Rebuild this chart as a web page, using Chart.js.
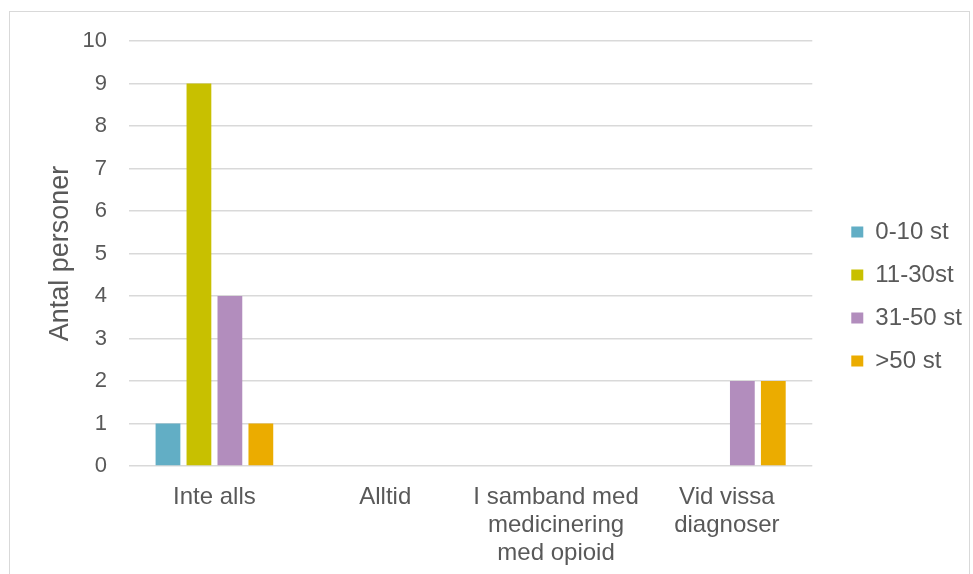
<!DOCTYPE html>
<html>
<head>
<meta charset="utf-8">
<script src="https://cdn.jsdelivr.net/npm/chart.js@4/dist/chart.umd.min.js"></script>
<style>
  html, body { margin: 0; padding: 0; background: #fff; }
  #wrap { position: relative; width: 973px; height: 574px; overflow: hidden; }
  #frame { position: absolute; left: 9px; top: 11px; width: 961px; height: 600px; border: 1px solid #d9d9d9; box-sizing: border-box; }
  canvas { position: absolute; left: 0; top: 0; }
</style>
</head>
<body>
<div id="wrap">
  <div id="frame"></div>
  <canvas id="c" width="973" height="574"></canvas>
</div>
<script>
const categories = [
  "Inte alls",
  "Alltid",
  ["I samband med", "medicinering", "med opioid"],
  ["Vid vissa", "diagnoser"]
];
const seriesNames = ["0-10 st", "11-30st", "31-50 st", ">50 st"];
const values0to10 = [1, 0, 0, 0];
const values11to30 = [9, 0, 0, 0];
const values31to50 = [4, 0, 0, 2];
const valuesOver50 = [1, 0, 0, 2];
const seriesColors = ["#62aec5", "#c8c000", "#b28dbd", "#ebac00"];
const yTicks = [0, 1, 2, 3, 4, 5, 6, 7, 8, 9, 10];

const textColor = "#595959";
const fontFamily = "'Liberation Sans', Arial, sans-serif";

const seriesValues = [values0to10, values11to30, values31to50, valuesOver50];

// empty spacer axes that only reserve room around the plot
const spacer = (size, horizontal) => ({
  display: true,
  grid: { display: false, drawTicks: false },
  border: { display: false },
  ticks: { display: false },
  afterFit: (axis) => {
    if (horizontal) axis.height = size; else axis.width = size;
  }
});

new Chart(document.getElementById("c"), {
  type: "bar",
  data: {
    labels: categories,
    datasets: seriesNames.map((name, i) => ({
      label: name,
      data: seriesValues[i],
      backgroundColor: seriesColors[i],
      borderWidth: 0,
      categoryPercentage: 0.725,
      barPercentage: 0.8
    }))
  },
  options: {
    responsive: false,
    animation: false,
    layout: { padding: { left: 30, top: 19, right: 1, bottom: 0 } },
    plugins: {
      tooltip: { enabled: false },
      legend: {
        position: "right",
        align: "center",
        labels: {
          color: textColor,
          font: { family: fontFamily, size: 24 },
          boxWidth: 12,
          boxHeight: 11,
          padding: 19
        }
      }
    },
    scales: {
      x: {
        grid: { display: false, drawTicks: false },
        border: { display: false },
        ticks: {
          color: textColor,
          font: { family: fontFamily, size: 24, lineHeight: 1.17 },
          padding: 17,
          maxRotation: 0,
          autoSkip: false
        },
        afterFit: (axis) => { axis.height = 108; }
      },
      y: {
        min: 0,
        max: 10,
        afterBuildTicks: (axis) => { axis.ticks = yTicks.map(v => ({ value: v })); },
        grid: { color: "#d9d9d9", lineWidth: 1.5, drawTicks: false },
        border: { display: false },
        ticks: {
          color: textColor,
          font: { family: fontFamily, size: 22 },
          padding: 22
        },
        title: {
          display: true,
          text: "Antal personer",
          color: textColor,
          font: { family: fontFamily, size: 27 },
          padding: { top: 14, bottom: 0 }
        },
        afterFit: (axis) => { axis.width = 99; }
      },
      xTop: Object.assign({ type: "category", position: "top" }, spacer(22, true)),
      yRight: Object.assign({ type: "linear", position: "right" }, spacer(20, false))
    }
  }
});
</script>
</body>
</html>
